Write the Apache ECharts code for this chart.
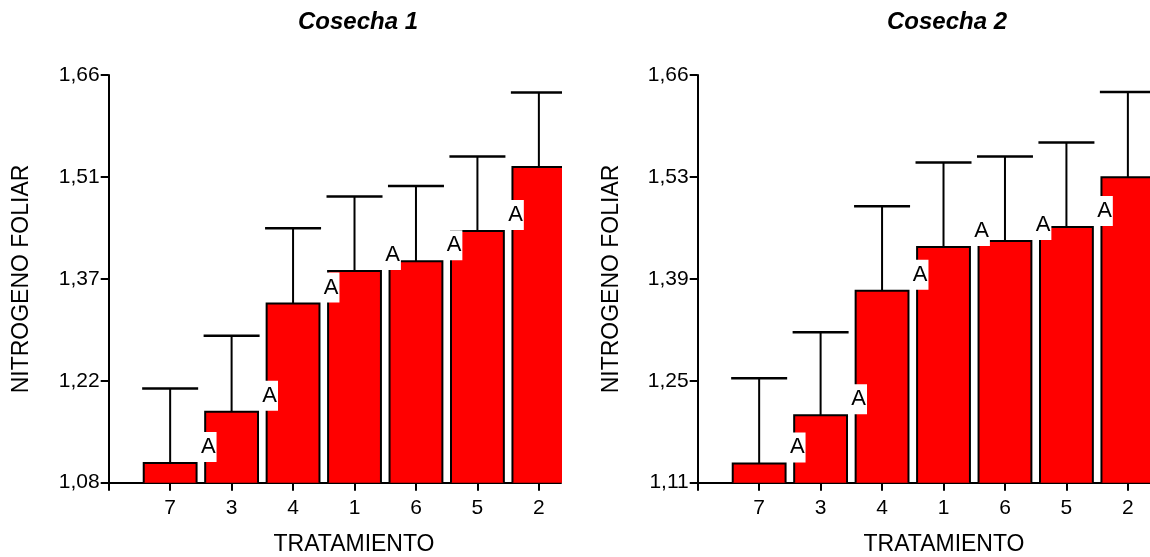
<!DOCTYPE html>
<html>
<head>
<meta charset="utf-8">
<title>Nitrógeno foliar por tratamiento</title>
<script src="https://cdn.jsdelivr.net/npm/echarts@6/dist/echarts.min.js"></script>
<style>
  html, body { margin: 0; padding: 0; background: #fff; }
  #chart { width: 1150px; height: 557px; }
</style>
</head>
<body>
<div id="chart"></div>
<script>
// Treatments, in the order they are plotted (ascending mean)
const categories = ['7', '3', '4', '1', '6', '5', '2'];

// Cosecha 1: mean foliar nitrogen and upper error-bar end
const meanC1  = [1.108, 1.181, 1.335, 1.381, 1.395, 1.438, 1.529];
const upperC1 = [1.214, 1.289, 1.442, 1.487, 1.502, 1.544, 1.635];
const groupC1 = ['A', 'A', 'A', 'A', 'A', 'A', 'A'];

// Cosecha 2
const meanC2  = [1.136, 1.201, 1.369, 1.428, 1.436, 1.455, 1.522];
const upperC2 = [1.251, 1.313, 1.483, 1.542, 1.550, 1.569, 1.637];
const groupC2 = ['A', 'A', 'A', 'A', 'A', 'A', 'A'];

// Y axis ticks and their printed labels
const yTicksC1  = [1.08, 1.225, 1.37, 1.515, 1.66];
const yLabelsC1 = ['1,08', '1,22', '1,37', '1,51', '1,66'];
const yTicksC2  = [1.11, 1.2475, 1.385, 1.5225, 1.66];
const yLabelsC2 = ['1,11', '1,25', '1,39', '1,53', '1,66'];

const FONT = '"Liberation Sans", Arial, sans-serif';
const X_MAX = 7.36;              // visible span in category slots
const xTickPos = [0, 1, 2, 3, 4, 5, 6, 7];
const xLabelPos = [1, 2, 3, 4, 5, 6, 7];
const BAR_HALF = 0.43;           // half bar width, in category slots

function makeGrid(left) {
  return { left: left, top: 75, width: 452.3, height: 407.7, containLabel: false };
}

function makeXAxis(idx) {
  return {
    type: 'value', gridIndex: idx, min: 0, max: X_MAX,
    axisLine: { show: true, lineStyle: { color: '#000', width: 2 } },
    axisTick: { show: true, length: 8, lineStyle: { color: '#000', width: 2 }, customValues: xTickPos },
    axisLabel: {
      show: true, margin: 15, color: '#000', fontSize: 21, fontFamily: FONT,
      customValues: xLabelPos,
      formatter: v => categories[Math.round(v) - 1] || ''
    },
    splitLine: { show: false }
  };
}

function makeYAxis(idx, ticks, labels) {
  return {
    type: 'value', gridIndex: idx, min: ticks[0], max: ticks[ticks.length - 1],
    axisLine: { show: true, lineStyle: { color: '#000', width: 2 } },
    axisTick: { show: true, length: 8, lineStyle: { color: '#000', width: 2 }, customValues: ticks },
    axisLabel: {
      show: true, margin: 9, color: '#000', fontSize: 21, fontFamily: FONT,
      customValues: ticks,
      formatter: v => {
        const i = ticks.findIndex(t => Math.abs(t - v) < 1e-6);
        return i >= 0 ? labels[i] : '';
      }
    },
    splitLine: { show: false }
  };
}

// Bars as rectangles, clipped to the plot area (edge bars are cut off)
function barSeries(idx, means) {
  return {
    type: 'custom', xAxisIndex: idx, yAxisIndex: idx, clip: true, z: 2,
    data: means.map((m, i) => [i + 1, m]),
    renderItem: (params, api) => {
      const x = api.value(0);
      const base = params.coordSys.y + params.coordSys.height;
      const tl = api.coord([x - BAR_HALF, api.value(1)]);
      const tr = api.coord([x + BAR_HALF, api.value(1)]);
      return {
        type: 'rect',
        shape: { x: tl[0], y: tl[1], width: tr[0] - tl[0], height: base - tl[1] + 2 },
        style: { fill: '#ff0000', stroke: '#000', lineWidth: 2 }
      };
    }
  };
}

function errorSeries(idx, means, uppers) {
  return {
    type: 'custom', xAxisIndex: idx, yAxisIndex: idx, clip: true, z: 3,
    data: means.map((m, i) => [i + 1, m, uppers[i]]),
    renderItem: (params, api) => {
      const x = api.value(0);
      const lo = api.coord([x, api.value(1)]);
      const hi = api.coord([x, api.value(2)]);
      return {
        type: 'group',
        children: [
          { type: 'line', shape: { x1: lo[0], y1: lo[1], x2: hi[0], y2: hi[1] },
            style: { stroke: '#000', lineWidth: 2 } },
          { type: 'line', shape: { x1: hi[0] - 28, y1: hi[1], x2: hi[0] + 28, y2: hi[1] },
            style: { stroke: '#000', lineWidth: 2.5 } }
        ]
      };
    }
  };
}

// Group letters sit at the right-hand boundary of each bar's slot
function letterSeries(idx, means, groups) {
  return {
    type: 'custom', xAxisIndex: idx, yAxisIndex: idx, clip: true, z: 4,
    data: means.map((m, i) => [i + 1, m, i]),
    renderItem: (params, api) => {
      const p = api.coord([api.value(0) + 0.5, api.value(1)]);
      const cs = params.coordSys;
      if (p[0] + 17 > cs.x + cs.width) return null;
      return {
        type: 'text', x: p[0] - 1, y: p[1] - 1,
        style: {
          text: groups[api.value(2)], fill: '#000',
          font: '22px ' + FONT, align: 'left', verticalAlign: 'bottom',
          backgroundColor: '#fff', padding: [4, 1, 4, 1]
        }
      };
    }
  };
}

function txt(x, y, text, font, rotation) {
  return {
    type: 'text', x: x, y: y, rotation: rotation || 0,
    style: { text: text, font: font, fill: '#000', align: 'center', verticalAlign: 'middle' }
  };
}

const chart = echarts.init(document.getElementById('chart'), null, { renderer: 'canvas' });
chart.setOption({
  animation: false,
  backgroundColor: '#fff',
  grid: [makeGrid(108.7), makeGrid(697.7)],
  xAxis: [makeXAxis(0), makeXAxis(1)],
  yAxis: [makeYAxis(0, yTicksC1, yLabelsC1), makeYAxis(1, yTicksC2, yLabelsC2)],
  series: [
    barSeries(0, meanC1), errorSeries(0, meanC1, upperC1), letterSeries(0, meanC1, groupC1),
    barSeries(1, meanC2), errorSeries(1, meanC2, upperC2), letterSeries(1, meanC2, groupC2)
  ],
  graphic: [
    txt(358, 22, 'Cosecha 1', 'italic bold 24px ' + FONT),
    txt(947, 22, 'Cosecha 2', 'italic bold 24px ' + FONT),
    txt(354, 545, 'TRATAMIENTO', '23px ' + FONT),
    txt(944, 545, 'TRATAMIENTO', '23px ' + FONT),
    txt(22, 279, 'NITROGENO FOLIAR', '23px ' + FONT, Math.PI / 2),
    txt(612, 279, 'NITROGENO FOLIAR', '23px ' + FONT, Math.PI / 2)
  ]
});
</script>
</body>
</html>
